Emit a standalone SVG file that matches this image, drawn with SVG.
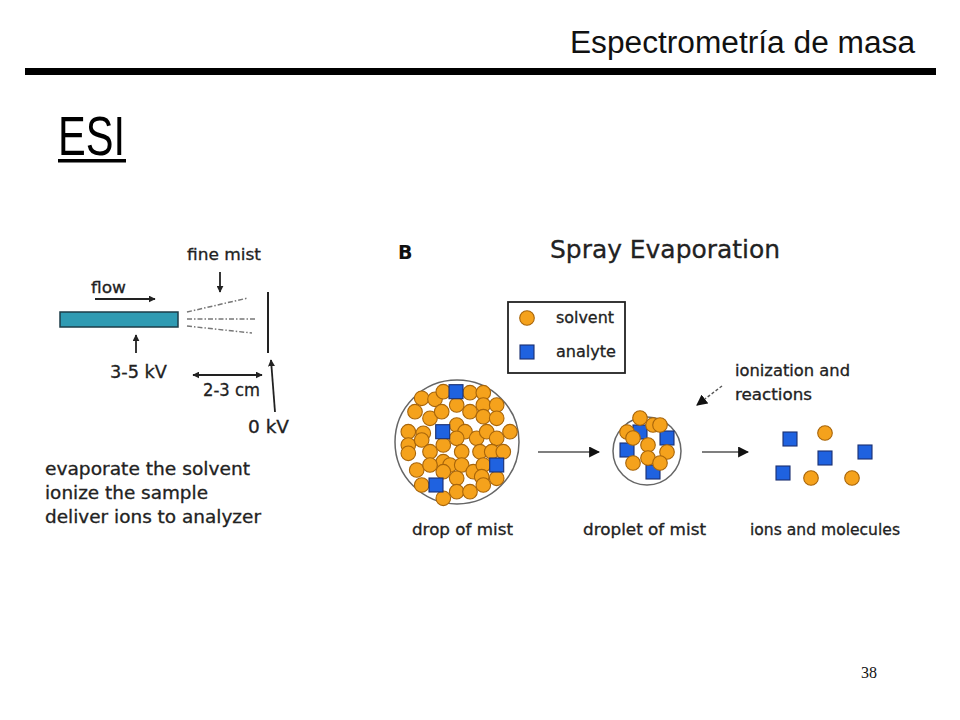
<svg xmlns="http://www.w3.org/2000/svg" width="960" height="720" viewBox="0 0 960 720">
<defs>
<style>
.hand{font-family:"DejaVu Sans","Open Sans",sans-serif;fill:#222;stroke:#222;stroke-width:0.3;}
.ln{stroke:#222;stroke-width:1.8;fill:none;}
.gl{stroke:#555;stroke-width:1.6;fill:none;}
.mist{stroke:#777;stroke-width:1.5;stroke-dasharray:5 2 1.5 2;fill:none;}
.s{fill:#f5a21c;stroke:#a8650a;stroke-width:1.1;}
.a{fill:#1f62e0;stroke:#1a2f70;stroke-width:1.1;}
</style>
<marker id="ah" viewBox="0 0 10 10" refX="9" refY="5" markerWidth="7" markerHeight="7" orient="auto-start-reverse" markerUnits="userSpaceOnUse">
<path d="M0,0 L10,5 L0,10 z" fill="#222"/>
</marker>
<marker id="ahb" viewBox="0 0 10 10" refX="9" refY="5" markerWidth="11" markerHeight="11" orient="auto-start-reverse" markerUnits="userSpaceOnUse">
<path d="M0,0 L10,5 L0,10 z" fill="#111"/>
</marker>
<circle id="sv" r="7.3" class="s"/>
<rect id="an" x="-7" y="-7" width="14" height="14" class="a"/>
</defs>
<rect width="960" height="720" fill="#fff"/>

<g id="header">
<text x="915" y="53" text-anchor="end" font-family="Liberation Sans, Arial, sans-serif" font-size="31" fill="#111" textLength="345" lengthAdjust="spacingAndGlyphs">Espectrometría de masa</text>
<rect x="25" y="68" width="911" height="7" fill="#000"/>
<text x="58" y="155" font-family="Liberation Sans, Arial, sans-serif" font-size="56" fill="#000" textLength="67" lengthAdjust="spacingAndGlyphs">ESI</text>
<rect x="58" y="159" width="68" height="3.5" fill="#000"/>
<text x="877" y="678" text-anchor="end" font-family="Liberation Serif, serif" font-size="16" fill="#111">38</text>
</g>

<g id="panel-a">
<g id="capillary">
<rect x="60" y="312" width="118" height="15" fill="#2f9bb3" stroke="#1d3d48" stroke-width="1.5"/>
</g>
<g id="counter-electrode">
<line x1="268" y1="292" x2="268" y2="353" stroke="#222" stroke-width="2"/>
</g>
<g id="mist-lines">
<line class="mist" x1="187" y1="312" x2="248" y2="298"/>
<line class="mist" x1="187" y1="319" x2="255" y2="319"/>
<line class="mist" x1="187" y1="326" x2="252" y2="333"/>
</g>
<g id="labels-a">
<text class="hand" x="91" y="293" font-size="16" textLength="35" lengthAdjust="spacingAndGlyphs">flow</text>
<text class="hand" x="187" y="260" font-size="16" textLength="74" lengthAdjust="spacingAndGlyphs">fine mist</text>
<text class="hand" x="110" y="378" font-size="17" textLength="57" lengthAdjust="spacingAndGlyphs">3-5 kV</text>
<text class="hand" x="203" y="396" font-size="17" textLength="57" lengthAdjust="spacingAndGlyphs">2-3 cm</text>
<text class="hand" x="248" y="433" font-size="17" textLength="41" lengthAdjust="spacingAndGlyphs">0 kV</text>
<text class="hand" x="45" y="475" font-size="17" textLength="205" lengthAdjust="spacingAndGlyphs">evaporate the solvent</text>
<text class="hand" x="45" y="499" font-size="17" textLength="163" lengthAdjust="spacingAndGlyphs">ionize the sample</text>
<text class="hand" x="45" y="523" font-size="17" textLength="216" lengthAdjust="spacingAndGlyphs">deliver ions to analyzer</text>
</g>
</g>

<g id="panel-b">
<g id="title-b">
<text x="398" y="259" font-family="DejaVu Sans, sans-serif" font-weight="bold" font-size="19" fill="#111">B</text>
<text class="hand" x="550" y="258" font-size="24" textLength="230" lengthAdjust="spacingAndGlyphs">Spray Evaporation</text>
</g>
<g id="legend">
<rect x="508" y="302" width="117" height="71" fill="#fff" stroke="#222" stroke-width="1.8"/>
<use href="#sv" x="527" y="318"/>
<use href="#an" x="527" y="352"/>
<text class="hand" x="556" y="323" font-size="15" textLength="58" lengthAdjust="spacingAndGlyphs">solvent</text>
<text class="hand" x="556" y="357" font-size="15" textLength="60" lengthAdjust="spacingAndGlyphs">analyte</text>
</g>

<g id="drop-of-mist">
<circle cx="457" cy="442" r="62" fill="#fff" stroke="#666" stroke-width="1.5"/>
<use href="#sv" x="421.7" y="398.3"/>
<use href="#sv" x="435" y="399.3"/>
<use href="#sv" x="443.3" y="391.7"/>
<use href="#sv" x="470" y="392.7"/>
<use href="#sv" x="483.3" y="392.7"/>
<use href="#sv" x="415" y="411.7"/>
<use href="#sv" x="430" y="418.3"/>
<use href="#sv" x="441.7" y="411.7"/>
<use href="#sv" x="456.7" y="405"/>
<use href="#sv" x="470" y="411.7"/>
<use href="#sv" x="483.3" y="405"/>
<use href="#sv" x="496.7" y="405"/>
<use href="#sv" x="483.3" y="416.7"/>
<use href="#sv" x="496.7" y="418.3"/>
<use href="#sv" x="408.3" y="431.7"/>
<use href="#sv" x="423.3" y="433.3"/>
<use href="#sv" x="456.7" y="425"/>
<use href="#sv" x="465" y="431.7"/>
<use href="#sv" x="476.7" y="438.3"/>
<use href="#sv" x="486.7" y="431.7"/>
<use href="#sv" x="496.7" y="438.3"/>
<use href="#sv" x="510" y="431.7"/>
<use href="#sv" x="408.3" y="445"/>
<use href="#sv" x="421.7" y="440"/>
<use href="#sv" x="430" y="451.7"/>
<use href="#sv" x="443.3" y="445"/>
<use href="#sv" x="456.7" y="438.3"/>
<use href="#sv" x="408.3" y="453.3"/>
<use href="#sv" x="443.3" y="461.7"/>
<use href="#sv" x="461.7" y="451.7"/>
<use href="#sv" x="480" y="451.7"/>
<use href="#sv" x="491.7" y="451.7"/>
<use href="#sv" x="503.3" y="451.7"/>
<use href="#sv" x="416.7" y="470"/>
<use href="#sv" x="430" y="465"/>
<use href="#sv" x="450" y="465"/>
<use href="#sv" x="461.7" y="465"/>
<use href="#sv" x="473.3" y="471.7"/>
<use href="#sv" x="483.3" y="465"/>
<use href="#sv" x="443.3" y="471.7"/>
<use href="#sv" x="456.7" y="478.3"/>
<use href="#sv" x="481.7" y="476.7"/>
<use href="#sv" x="496.7" y="478.3"/>
<use href="#sv" x="421.7" y="485"/>
<use href="#sv" x="456.7" y="491.7"/>
<use href="#sv" x="470" y="491.7"/>
<use href="#sv" x="483.3" y="485"/>
<use href="#sv" x="443.3" y="498.3"/>
<use href="#an" x="456" y="391.7"/>
<use href="#an" x="442.7" y="431.7"/>
<use href="#an" x="496.7" y="465"/>
<use href="#an" x="436" y="485"/>
</g>

<g id="droplet-of-mist">
<circle cx="647" cy="451" r="34" fill="#fff" stroke="#666" stroke-width="1.5"/>
<use href="#an" x="640" y="432"/>
<use href="#an" x="667" y="438"/>
<use href="#an" x="627" y="450"/>
<use href="#an" x="653" y="472"/>
<use href="#sv" x="640" y="418"/>
<use href="#sv" x="653" y="425"/>
<use href="#sv" x="660" y="425"/>
<use href="#sv" x="627" y="432"/>
<use href="#sv" x="633" y="438"/>
<use href="#sv" x="648" y="445"/>
<use href="#sv" x="667" y="452"/>
<use href="#sv" x="648" y="458"/>
<use href="#sv" x="633" y="463"/>
<use href="#sv" x="660" y="463"/>
</g>

<g id="ions-and-molecules">
<use href="#an" x="790" y="439"/>
<use href="#sv" x="825" y="433"/>
<use href="#an" x="825" y="458"/>
<use href="#an" x="865" y="452"/>
<use href="#an" x="783" y="473"/>
<use href="#sv" x="811" y="478"/>
<use href="#sv" x="852" y="478"/>
</g>

<g id="labels-b">
<text class="hand" x="735" y="376" font-size="15" textLength="115" lengthAdjust="spacingAndGlyphs">ionization and</text>
<text class="hand" x="735" y="400" font-size="15" textLength="77" lengthAdjust="spacingAndGlyphs">reactions</text>
<text class="hand" x="412" y="535" font-size="15" textLength="101" lengthAdjust="spacingAndGlyphs">drop of mist</text>
<text class="hand" x="583" y="535" font-size="15" textLength="123" lengthAdjust="spacingAndGlyphs">droplet of mist</text>
<text class="hand" x="750" y="535" font-size="15" textLength="150" lengthAdjust="spacingAndGlyphs">ions and molecules</text>
</g>
</g>

<g id="connectors">
<line class="ln" x1="95" y1="299" x2="155" y2="299" marker-end="url(#ah)"/>
<line class="ln" x1="220" y1="272" x2="220" y2="292" marker-end="url(#ah)"/>
<line class="ln" x1="136" y1="353" x2="136" y2="335" marker-end="url(#ah)"/>
<line class="ln" x1="193" y1="375" x2="262" y2="375" marker-start="url(#ah)" marker-end="url(#ah)"/>
<line class="ln" x1="275" y1="412" x2="271" y2="360" marker-end="url(#ah)"/>
<line class="gl" x1="538" y1="452" x2="599" y2="452" marker-end="url(#ahb)"/>
<line class="gl" x1="702" y1="452" x2="748" y2="452" marker-end="url(#ahb)"/>
<line x1="722" y1="386" x2="697" y2="405" stroke="#555" stroke-width="1.4" stroke-dasharray="3 2" marker-end="url(#ahb)"/>
</g>
</svg>
